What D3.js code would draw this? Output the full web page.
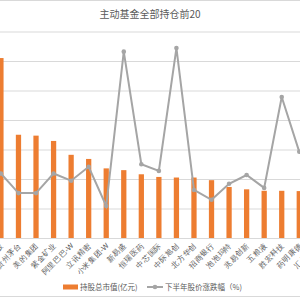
<!DOCTYPE html>
<html>
<head>
<meta charset="utf-8">
<script src="https://cdn.jsdelivr.net/npm/d3@7"></script>
<style>
  body { margin: 0; background: #fff; }
  svg { display: block; font-family: "Noto Sans CJK SC", "Noto Sans", sans-serif; }
</style>
</head>
<body>
<div id="chart-area"></div>
<script>
// top 20 holdings of active funds (chart is cropped, first and last sit outside the frame)
var stocks = ['宁德时代', '腾讯控股', '贵州茅台', '美的集团', '紫金矿业', '阿里巴巴-W', '立讯精密',
    '小米集团-W', '新易盛', '恒瑞医药', '中芯国际', '中际旭创', '北方华创', '招商银行', '泡泡玛特',
    '兆易创新', '五粮液', '胜宏科技', '药明康德', '汇川技术'];
var marketValue = [690, 610, 350, 347, 329, 282, 268, 236, 230, 216, 207, 205, 205, 196, 173, 165, 160, 160, 159, 150];
var priceChange = [22, 25, -13, -13, 25, 11, 38, -38, 261, 43, 30, 268, -7, -26, 5, 22, -3, 173, 67, 40];
var barTicks = [0, 100, 200, 300, 400, 500, 600, 700];

var W = 300, H = 300;
var plot = { left: -25.4, right: 325.6, top: 31.5, bottom: 238 };

var svg = d3.select('#chart-area')
    .append('svg')
        .attr('width', W)
        .attr('height', H);

// chart border
svg.append('rect')
    .attr('x', -5).attr('y', 0.5)
    .attr('width', W + 10).attr('height', 296)
    .attr('fill', 'none')
    .attr('stroke', '#d9d9d9');

var x = d3.scaleBand()
    .domain(stocks)
    .range([plot.left, plot.right])
    .paddingInner(0.7)
    .paddingOuter(0.35);

var y = d3.scaleLinear()
    .domain([0, 700])
    .range([plot.bottom, plot.top]);

var y2 = d3.scaleLinear()
    .domain([-100, 300])
    .range([plot.bottom, plot.top]);

// gridlines
var grid = svg.append('g')
    .attr('transform', 'translate(' + plot.left + ',0)')
    .call(d3.axisLeft(y).tickValues(barTicks).tickSize(-(plot.right - plot.left)).tickFormat(''));
grid.select('.domain').remove();
grid.selectAll('line').attr('stroke', '#d9d9d9');

// bars
svg.selectAll('rect.bar')
    .data(marketValue)
    .enter()
    .append('rect')
        .attr('class', 'bar')
        .attr('x', (d, i) => x(stocks[i]))
        .attr('y', d => y(d))
        .attr('width', x.bandwidth())
        .attr('height', d => plot.bottom - y(d))
        .attr('fill', '#ed7d31');

// category axis
var xAxis = svg.append('g')
    .attr('transform', 'translate(0,' + plot.bottom + ')')
    .call(d3.axisBottom(x).tickSize(0));
xAxis.select('.domain').attr('stroke', '#d9d9d9');
xAxis.selectAll('text')
    .attr('fill', '#595959')
    .attr('font-size', '7.5px')
    .attr('text-anchor', 'end')
    .attr('x', 0).attr('y', 0).attr('dy', 0)
    .attr('transform', 'translate(3,8) rotate(-45)');

// line series
var cx = i => x(stocks[i]) + x.bandwidth() / 2;
var line = d3.line()
    .x((d, i) => cx(i))
    .y(d => y2(d));

svg.append('path')
    .datum(priceChange)
    .attr('d', line)
    .attr('fill', 'none')
    .attr('stroke', '#a5a5a5')
    .attr('stroke-width', 2);

svg.selectAll('circle.pt')
    .data(priceChange)
    .enter()
    .append('circle')
        .attr('class', 'pt')
        .attr('cx', (d, i) => cx(i))
        .attr('cy', d => y2(d))
        .attr('r', 2.3)
        .attr('fill', '#a5a5a5');

// title
svg.append('text')
    .attr('x', 150)
    .attr('y', 18)
    .attr('text-anchor', 'middle')
    .attr('font-size', '10px')
    .attr('fill', '#595959')
    .text('主动基金全部持仓前20');

// legend
var lg = svg.append('g').attr('transform', 'translate(0,287)');
lg.append('rect')
    .attr('x', 63).attr('y', -2.5)
    .attr('width', 15).attr('height', 5)
    .attr('fill', '#ed7d31');
lg.append('text')
    .attr('x', 80).attr('y', 3)
    .attr('font-size', '7.5px')
    .attr('fill', '#595959')
    .text('持股总市值(亿元)');
lg.append('line')
    .attr('x1', 147).attr('x2', 163)
    .attr('y1', 0).attr('y2', 0)
    .attr('stroke', '#a5a5a5')
    .attr('stroke-width', 2);
lg.append('circle')
    .attr('cx', 155).attr('cy', 0).attr('r', 2.3)
    .attr('fill', '#a5a5a5');
lg.append('text')
    .attr('x', 165).attr('y', 3)
    .attr('font-size', '7.5px')
    .attr('fill', '#595959')
    .text('下半年股价涨跌幅（%)');
</script>
</body>
</html>
